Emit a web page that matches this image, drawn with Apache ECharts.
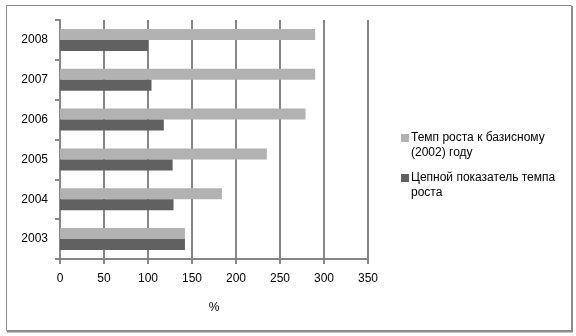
<!DOCTYPE html>
<html><head><meta charset="utf-8">
<script src="https://cdn.jsdelivr.net/npm/echarts@6/dist/echarts.min.js"></script>
<style>html,body{margin:0;padding:0;background:#fff}#c{width:576px;height:336px}</style>
</head><body><div id="c"></div>
<script>
var categories = ['2003', '2004', '2005', '2006', '2007', '2008'];
var baseGrowth = [142, 184, 235, 279, 290, 290];
var chainGrowth = [142, 129, 128, 118, 104, 100];
var xTicks = [0, 50, 100, 150, 200, 250, 300, 350];
var seriesNames = ['Темп роста к базисному (2002) году', 'Цепной показатель темпа роста'];
var legendLines = [['Темп роста к базисному', '(2002) году'], ['Цепной показатель темпа', 'роста']];
var colors = ['#B2B2B2', '#616161'];
var FONT = 'Liberation Sans';

var chart = echarts.init(document.getElementById('c'), null, {renderer: 'canvas'});
var graphics = [
  {type: 'rect', shape: {x: 6.5, y: 5.5, width: 565, height: 325}, style: {fill: 'none', stroke: '#8c8c8c', lineWidth: 1}, silent: true},
  {type: 'line', shape: {x1: 572, y1: 6, x2: 572, y2: 332}, style: {stroke: '#8c8c8c', lineWidth: 2}, silent: true},
  {type: 'line', shape: {x1: 7, y1: 331.5, x2: 573, y2: 331.5}, style: {stroke: '#8c8c8c', lineWidth: 2}, silent: true}
];
var legY = [138, 178];
for (var i = 0; i < 2; i++) {
  graphics.push({type: 'rect', shape: {x: 401, y: legY[i] - 4, width: 8, height: 8}, style: {fill: colors[i]}, silent: true});
  for (var j = 0; j < legendLines[i].length; j++) {
    graphics.push({type: 'text', x: 411, y: legY[i] + j * 15, style: {text: legendLines[i][j], fill: '#000', font: '12px "' + FONT + '"', textVerticalAlign: 'middle', textAlign: 'left'}, silent: true});
  }
}

chart.setOption({
  animation: false,
  backgroundColor: '#fff',
  grid: {left: 60, right: 208, top: 20, bottom: 77, containLabel: false},
  xAxis: {
    type: 'value', min: 0, max: 350, interval: 50,
    name: '%', nameLocation: 'middle', nameGap: 43,
    nameTextStyle: {color: '#000', fontFamily: FONT, fontSize: 12},
    axisLine: {show: true, lineStyle: {color: '#868686', width: 2}},
    axisTick: {show: true, length: 5, lineStyle: {color: '#868686', width: 2}},
    axisLabel: {color: '#000', fontFamily: FONT, fontSize: 12, margin: 14},
    splitLine: {show: true, lineStyle: {color: '#868686', width: 2}}
  },
  yAxis: {
    type: 'category', data: categories,
    axisLine: {show: true, lineStyle: {color: '#868686', width: 2}},
    axisTick: {show: true, length: 5, lineStyle: {color: '#868686', width: 2}},
    axisLabel: {color: '#000', fontFamily: FONT, fontSize: 12, margin: 12},
    splitLine: {show: false}
  },
  series: [
    {name: seriesNames[0], type: 'bar', data: baseGrowth, barWidth: 11, barGap: '0%', itemStyle: {color: colors[0]}},
    {name: seriesNames[1], type: 'bar', data: chainGrowth, barWidth: 11, barGap: '0%', itemStyle: {color: colors[1]}}
  ],
  graphic: graphics
});
</script></body></html>
